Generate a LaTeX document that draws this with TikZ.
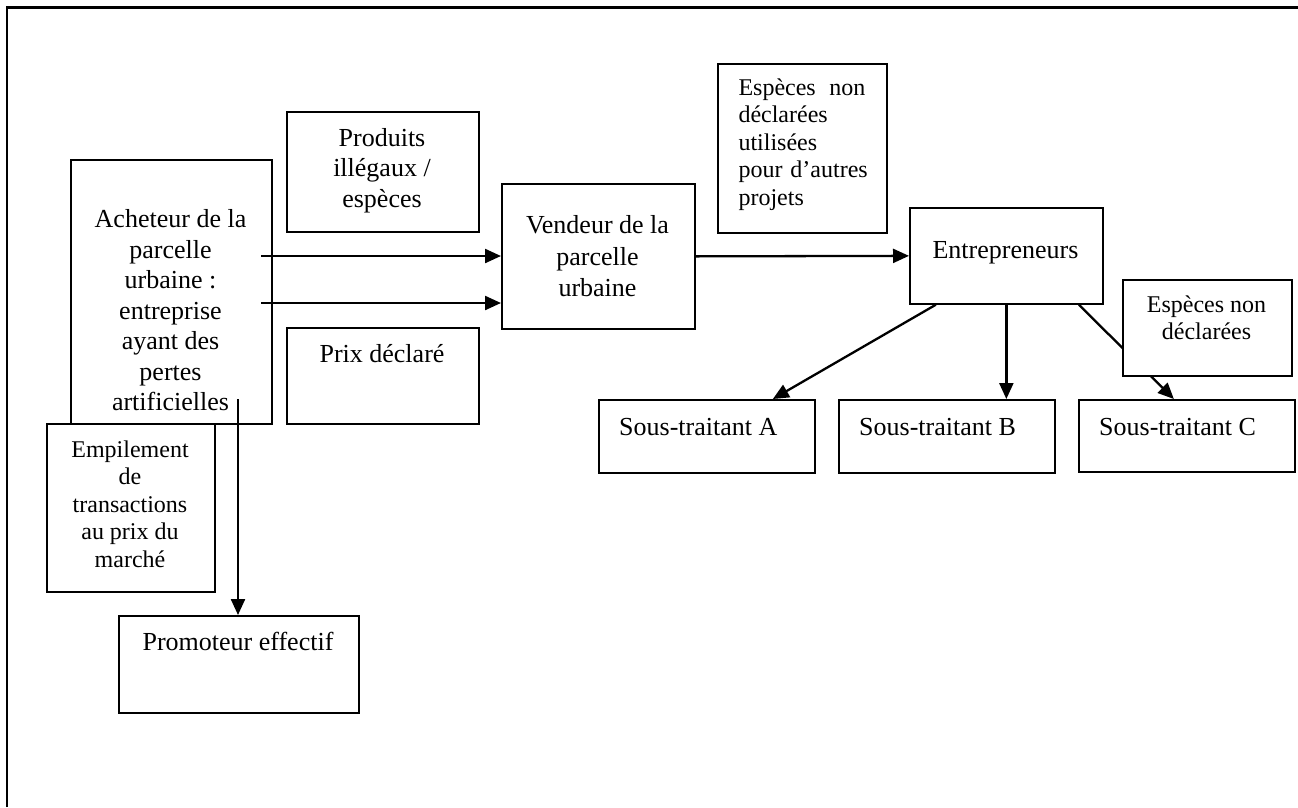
\documentclass[tikz,border=0pt]{standalone}
\usepackage{fontspec}
\setmainfont{Liberation Serif}
\usetikzlibrary{arrows.meta,calc}
\begin{document}
\begin{tikzpicture}[x=1pt,y=-1pt,
  box/.style={draw, line width=1.7pt, fill=white, inner sep=0pt, anchor=north west},
  txt/.style={inner sep=0pt, align=center, font=\fontsize{26}{30.5}\selectfont},
  stxt/.style={inner sep=0pt, align=center, font=\fontsize{24}{27.5}\selectfont},
  arr/.style={line width=2.3pt, -{Triangle[length=16pt,width=14pt]}},
  frame/.style={line width=2.3pt}]
\useasboundingbox (0,0) rectangle (1298,807);
\draw[frame] (7,807) -- (7,7.5) -- (1298,7.5);

% boxes
\node[box, minimum width=201pt, minimum height=264pt] (acheteur) at (70,159) {};
\node[box, minimum width=192pt, minimum height=120pt] (produits) at (286,111) {};
\node[box, minimum width=192pt, minimum height=96pt] (prix) at (286,327) {};
\node[box, minimum width=168pt, minimum height=168pt] (empilement) at (46,423) {};
\node[box, minimum width=240pt, minimum height=97pt] (promoteur) at (118,615) {};
\node[box, minimum width=193pt, minimum height=145pt] (vendeur) at (501,183) {};
\node[box, minimum width=169pt, minimum height=169pt] (especes1) at (717,63) {};
\node[box, minimum width=193pt, minimum height=96pt] (entrepreneurs) at (909,207) {};
\node[box, minimum width=216pt, minimum height=73pt] (stA) at (598,399) {};
\node[box, minimum width=216pt, minimum height=73pt] (stB) at (838,399) {};
\node[box, minimum width=216pt, minimum height=72pt] (stC) at (1078,399) {};

% texts
\node[txt, anchor=north] (acheteur-t) at (170.5,209.5) {Acheteur de la\\parcelle\\urbaine :\\entreprise\\ayant des\\pertes\\artificielles};
\node[txt, anchor=north] (produits-t) at (382,128) {Produits\\illégaux /\\espèces};
\node[txt, anchor=base] (prix-t) at (382,362.7) {Prix déclaré};
\node[stxt, anchor=north] (empilement-t) at (130,440.3) {Empilement\\de\\transactions\\au prix du\\marché};
\node[txt, anchor=base] (promoteur-t) at (238,650) {Promoteur effectif};
\node[txt, anchor=north, font=\fontsize{26}{31.5}\selectfont] (vendeur-t) at (597.5,215.5) {Vendeur de la\\parcelle\\urbaine};
\node[stxt, anchor=north west, align=left, text width=127pt] (especes1-t) at (738.3,78.6) {Espèces\hfill non\\déclarées\\utilisées\\\mbox{pour d’autres}\\projets};
\node[txt, anchor=base] (entrepreneurs-t) at (1005.5,258.3) {Entrepreneurs};
\node[txt, anchor=base west] (stA-t) at (619,435) {Sous-traitant A};
\node[txt, anchor=base west] (stB-t) at (859,435) {Sous-traitant B};
\node[txt, anchor=base west] (stC-t) at (1099,435) {Sous-traitant C};

% connectors
\coordinate (a1) at (261,256);
\coordinate (a2) at (261,303);
\coordinate (a3) at (238,399);
\draw[arr] (a1) -- (a1 -| vendeur.west);
\draw[arr] (a2) -- (a2 -| vendeur.west);
\draw[arr] (a3) -- (a3 |- promoteur.north);
\draw[arr] (vendeur.east) -- (entrepreneurs.west);
\draw[arr] ([xshift=-70.5pt]entrepreneurs.south) -- ([xshift=66pt]stA.north);
\draw[arr] (entrepreneurs.south) -- (entrepreneurs.south |- stB.north);
\draw[arr] ([xshift=72.5pt]entrepreneurs.south) -- ([xshift=-13pt]stC.north);

% box on top of the last arrow
\node[box, minimum width=169pt, minimum height=96pt] (especes2) at (1122,279) {};
\node[stxt, anchor=north] (especes2-t) at (1206.5,295.3) {Espèces non\\déclarées};
\end{tikzpicture}
\end{document}
